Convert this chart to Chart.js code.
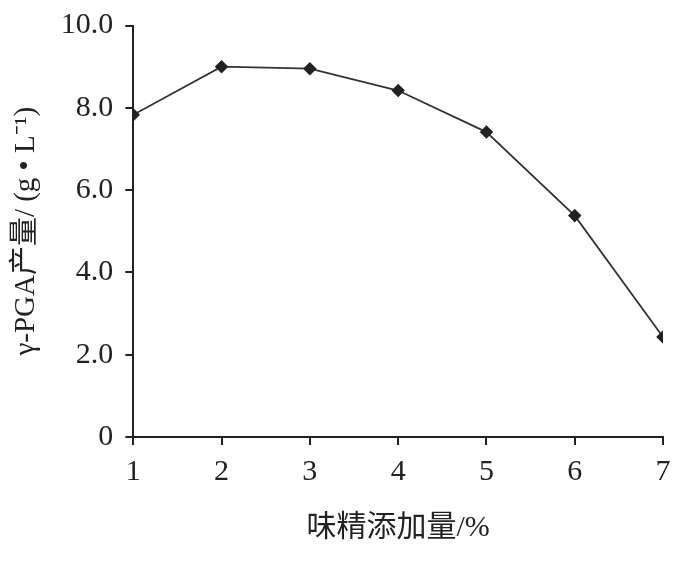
<!DOCTYPE html>
<html>
<head>
<meta charset="utf-8">
<script src="https://cdn.jsdelivr.net/npm/chart.js@4/dist/chart.umd.min.js"></script>
<style>
  html, body { margin: 0; padding: 0; background: #fff; }
  #wrap { width: 700px; height: 561px; }
</style>
</head>
<body>
<div id="wrap"><canvas id="chart" width="700" height="561"></canvas></div>
<script>
// MSG addition (%) vs gamma-PGA yield
const dosage = [1, 2, 3, 4, 5, 6, 7];
const yieldValues = [7.83, 9.0, 8.95, 8.42, 7.41, 5.38, 2.43];
const yTicks = [0, 2, 4, 6, 8, 10];

const fontFamily = '"Liberation Serif", "Times New Roman", "Noto Sans CJK SC", serif';
const ink = '#222';

const ctx = document.getElementById('chart').getContext('2d');
new Chart(ctx, {
    type: 'line',
    data: {
        datasets: [{
            data: dosage.map((x, i) => ({ x: x, y: yieldValues[i] })),
            borderColor: '#333',
            borderWidth: 1.8,
            pointStyle: 'rectRot',
            pointRadius: 5.5,
            pointBackgroundColor: '#222',
            pointBorderColor: '#222',
            tension: 0
        }]
    },
    options: {
        responsive: false,
        animation: false,
        layout: { padding: { top: 2, right: 37, bottom: 11, left: 9 } },
        plugins: { legend: { display: false }, tooltip: { enabled: false } },
        scales: {
            x: {
                type: 'linear',
                min: 1,
                max: 7,
                afterBuildTicks: axis => { axis.ticks = dosage.map(v => ({ value: v })); },
                grid: { drawOnChartArea: false, tickLength: 8, color: ink, lineWidth: 2 },
                border: { color: ink, width: 2 },
                ticks: { color: ink, font: { family: fontFamily, size: 30 }, padding: 9, maxRotation: 0 },
                title: {
                    display: true,
                    text: '味精添加量/%',
                    color: ink,
                    font: { family: fontFamily, size: 30 },
                    padding: { top: 11, bottom: 4 }
                }
            },
            y: {
                min: 0,
                max: 10,
                afterBuildTicks: axis => { axis.ticks = yTicks.map(v => ({ value: v })); },
                grid: { drawOnChartArea: false, tickLength: 8, color: ink, lineWidth: 2 },
                border: { color: ink, width: 2 },
                ticks: {
                    color: ink,
                    font: { family: fontFamily, size: 30, lineHeight: 0.9 },
                    padding: 12,
                    callback: v => v === 0 ? '0' : v.toFixed(1)
                },
                title: {
                    display: true,
                    text: 'γ-PGA产量/ (g • L⁻¹)',
                    color: ink,
                    font: { family: fontFamily, size: 29 },
                    padding: { top: 0, bottom: 5 }
                }
            }
        }
    }
});
</script>
</body>
</html>
